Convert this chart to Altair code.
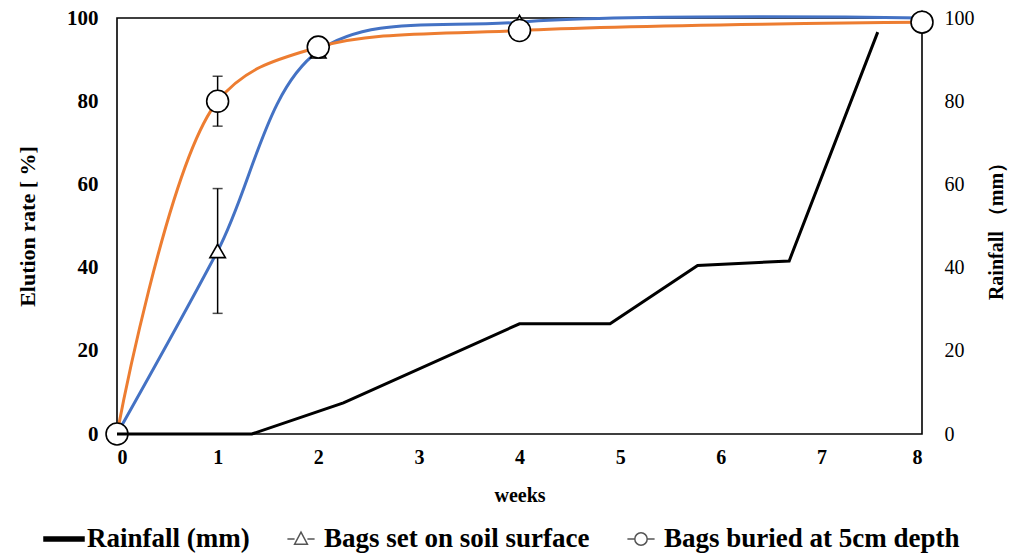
import altair as alt
import pandas as pd

# ---------------- data ----------------
weeks_bags = [0, 1, 2, 4, 8]
surface = [0, 44, 92, 99, 100]
buried = [0, 80, 93, 97, 99]

err_weeks = [1, 1]
err_series = ["Bags set on soil surface", "Bags buried at 5cm depth"]
err_lo = [29, 74]
err_hi = [59, 86]

rain_weeks = [0, 0.45, 1.34, 2.25, 4.0, 4.9, 5.77, 6.68, 7.56]
rain_mm = [0, 0, 0, 7.5, 26.5, 26.5, 40.5, 41.6, 96.6]

series_names = ["Rainfall (mm)", "Bags set on soil surface", "Bags buried at 5cm depth"]
x_ticks = [0, 1, 2, 3, 4, 5, 6, 7, 8]
y_ticks = [0, 20, 40, 60, 80, 100]

FONT = "Liberation Serif"
BLUE = "#4472C4"
ORANGE = "#ED7D31"

bags = pd.DataFrame({"week": weeks_bags, "surface": surface, "buried": buried})
err = pd.DataFrame({"week": err_weeks, "series": err_series, "lo": err_lo, "hi": err_hi})
rain = pd.DataFrame({"week": rain_weeks, "rain": rain_mm})
leg = pd.DataFrame({"series": series_names})

xenc = alt.X(
    "week:Q",
    scale=alt.Scale(domain=[0, 8], nice=False),
    axis=alt.Axis(
        values=x_ticks, format="d", title="weeks", ticks=False, domain=False, grid=False,
        labelFont=FONT, labelFontSize=20, labelFontWeight="bold", labelColor="black",
        labelPadding=13, titleFont=FONT, titleFontSize=20, titleFontWeight="bold",
        titleColor="black", titlePadding=18,
    ),
)

scaleL = alt.Scale(domain=[0, 100], nice=False)
axisL = alt.Axis(
    values=y_ticks, title="Elution rate [ %]", ticks=False, domain=False, grid=False,
    labelFont=FONT, labelFontSize=21, labelFontWeight="bold", labelColor="black",
    labelPadding=19, titleFont=FONT, titleFontSize=22, titleFontWeight="bold",
    titleColor="black", titlePadding=27,
)


def yl(field):
    return alt.Y(field, scale=scaleL, axis=axisL)


line_surface = alt.Chart(bags).mark_line(
    color=BLUE, strokeWidth=3, interpolate="catmull-rom"
).encode(x=xenc, y=yl("surface:Q"))

line_buried = alt.Chart(bags).mark_line(
    color=ORANGE, strokeWidth=3, interpolate="catmull-rom"
).encode(x=xenc, y=yl("buried:Q"))

err_rule = alt.Chart(err).mark_rule(color="black", strokeWidth=1.5).encode(
    x=xenc, y=yl("lo:Q"), y2="hi:Q"
)
err_caps = alt.Chart(err).transform_fold(["lo", "hi"], as_=["k", "v"]).mark_tick(
    orient="horizontal", size=10, thickness=1.5, color="black"
).encode(x=xenc, y=yl("v:Q"))

tri = alt.Chart(bags).mark_point(
    shape="triangle-up", size=240, filled=True, fill="white", stroke="black",
    strokeWidth=1.6, opacity=1,
).encode(x=xenc, y=yl("surface:Q"))

circ = alt.Chart(bags).mark_point(
    shape="circle", size=480, filled=True, fill="white", stroke="black",
    strokeWidth=1.6, opacity=1,
).encode(x=xenc, y=yl("buried:Q"))

leg_paths = [
    "M-1,-0.1H1V0.1H-1Z",
    "M-0.68,0H-0.32M0.32,0H0.68M0,-0.34L0.32,0.26H-0.32Z",
    "M-0.68,0H-0.31M0.31,0H0.68M0.31,0A0.31,0.31 0 1,1 -0.31,0A0.31,0.31 0 1,1 0.31,0Z",
]
legend_props = dict(title=None, orient="none", direction="horizontal", legendX=-74, legendY=500)
legend_layer = alt.Chart(leg).mark_point(opacity=0, filled=True).encode(
    shape=alt.Shape(
        "series:N",
        scale=alt.Scale(domain=series_names, range=leg_paths),
        legend=alt.Legend(**legend_props),
        sort=series_names,
    ),
    fill=alt.Fill(
        "series:N",
        scale=alt.Scale(domain=series_names, range=["black", "white", "white"]),
        legend=alt.Legend(**legend_props),
        sort=series_names,
    ),
    stroke=alt.Stroke(
        "series:N",
        scale=alt.Scale(domain=series_names, range=["black", "#555555", "#555555"]),
        legend=alt.Legend(**legend_props),
        sort=series_names,
    ),
)

left = alt.layer(line_surface, line_buried, err_rule, err_caps, tri, circ, legend_layer)

rain_line = alt.Chart(rain).mark_line(color="black", strokeWidth=3).encode(
    x=xenc,
    y=alt.Y(
        "rain:Q",
        scale=alt.Scale(domain=[0, 100], nice=False),
        axis=alt.Axis(
            orient="right", values=y_ticks, title="Rainfall （mm）", ticks=False,
            domain=False, grid=False, labelFont=FONT, labelFontSize=20,
            labelFontWeight="normal", labelColor="black", labelPadding=22,
            titleFont=FONT, titleFontSize=20, titleFontWeight="bold",
            titleColor="black", titleAngle=270, titlePadding=32,
        ),
    ),
)

chart = (
    alt.layer(left, rain_line)
    .resolve_scale(y="independent")
    .properties(
        width=805,
        height=416,
        autosize=alt.AutoSizeParams(type="none"),
        padding={"left": 117, "top": 18, "right": 93, "bottom": 121},
        background="white",
    )
    .configure_view(stroke="black", strokeWidth=1.6)
    .configure_legend(
        labelFont=FONT, labelFontSize=27, labelFontWeight="bold", labelColor="black",
        symbolSize=1600, symbolStrokeWidth=1.5, symbolOpacity=1, labelOffset=2,
        columnPadding=30, labelLimit=400,
    )
)

chart.save("out.html", embed_options={"renderer": "svg", "actions": False})
